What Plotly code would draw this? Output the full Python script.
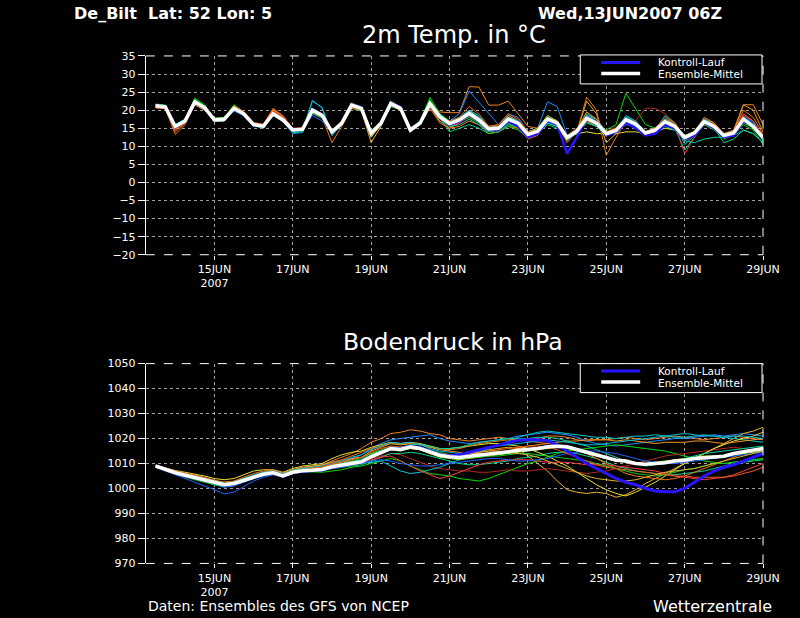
import pandas as pd
import plotly.graph_objects as go

# GFS ensemble meteogram De Bilt, run 13JUN2007 06Z, 6-hourly steps
times = pd.date_range("2007-06-13 12:00", "2007-06-29 00:00", freq="6h")

tick_dates = ["2007-06-15", "2007-06-17", "2007-06-19", "2007-06-21",
              "2007-06-23", "2007-06-25", "2007-06-27", "2007-06-29"]
tick_labels = ["15JUN<br>2007", "17JUN", "19JUN", "21JUN",
               "23JUN", "25JUN", "27JUN", "29JUN"]

member_colors = ["#f08228", "#1e8cff", "#e6af2d", "#00dc00", "#b4281e", "#00d28c",
                 "#00c8c8", "#e6dc32", "#f07814", "#a0e632", "#fa3c3c", "#f0961e",
                 "#14c814", "#00d2a0", "#1e64ff", "#00b4dc", "#f05a1e", "#dcb432"]
control_color = "#2814ff"

# ---- 2m temperature (degC) ----
t_mean = [21.2, 20.9, 15.5, 17.0, 22.3, 20.7, 17.3, 17.5, 20.5, 19.0, 16.0, 15.6, 19.0, 17.3,
          14.5, 14.7, 20.0, 18.6, 14.0, 16.4, 21.4, 20.5, 13.6, 16.4, 21.8, 20.5, 14.5, 16.4,
          21.8, 18.2, 16.3, 17.3, 19.1, 17.3, 14.8, 15.0, 17.5, 16.4, 13.3, 14.2, 17.5, 16.4,
          12.4, 14.2, 17.8, 16.4, 13.5, 14.4, 17.3, 16.2, 13.7, 14.5, 16.8, 15.5, 12.4, 13.7,
          16.8, 15.5, 13.0, 13.7, 17.5, 15.5, 12.4]
t_ctrl = [21.3, 21.0, 15.2, 16.9, 22.1, 20.6, 17.2, 17.4, 20.3, 18.9, 15.9, 15.5, 18.9, 17.2,
          14.3, 14.6, 20.2, 18.7, 13.8, 16.4, 21.6, 20.7, 13.4, 16.5, 22.0, 20.8, 14.4, 16.3,
          21.6, 18.0, 16.0, 17.0, 18.8, 17.0, 14.5, 14.5, 17.0, 15.5, 12.5, 13.5, 17.0, 16.0,
          8.0, 12.5, 18.0, 16.5, 13.0, 14.0, 16.5, 15.0, 13.0, 13.5, 16.0, 15.0, 12.0, 13.0,
          16.5, 15.0, 12.5, 13.0, 17.0, 15.5, 12.0]
t_m01 = [21.0, 20.6, 14.5, 16.5, 22.0, 20.5, 17.0, 17.2, 20.8, 19.5, 16.3, 15.5, 19.8, 18.0,
         14.3, 14.5, 20.5, 19.0, 13.5, 16.0, 21.0, 20.0, 13.5, 16.0, 22.0, 20.5, 14.0, 16.0,
         22.5, 19.5, 19.3, 19.3, 26.5, 26.4, 21.4, 21.4, 22.5, 19.0, 15.5, 15.0, 18.0, 17.0,
         13.0, 15.0, 18.5, 17.5, 14.0, 15.0, 18.0, 16.5, 14.0, 14.5, 17.0, 16.0, 12.5, 13.5,
         17.5, 16.0, 13.0, 14.0, 21.5, 21.5, 16.0]
t_m02 = [21.3, 21.0, 15.0, 16.8, 22.0, 20.3, 17.0, 17.0, 20.0, 18.5, 15.8, 15.3, 18.6, 17.0,
         13.5, 13.8, 22.8, 20.5, 13.0, 16.0, 21.5, 20.5, 13.0, 16.0, 21.5, 20.0, 14.0, 16.5,
         21.5, 17.5, 17.0, 19.0, 25.3, 22.3, 19.0, 16.0, 19.0, 18.0, 14.0, 15.0, 22.3, 21.0,
         13.0, 14.0, 18.0, 17.0, 13.0, 14.0, 17.0, 16.0, 13.5, 14.0, 16.0, 15.5, 12.0, 13.0,
         16.5, 15.0, 12.5, 13.5, 18.0, 16.5, 12.0]
t_m03 = [20.8, 20.5, 15.5, 17.0, 21.5, 20.3, 16.8, 17.0, 20.0, 18.8, 15.8, 15.5, 18.5, 17.0,
         14.5, 14.5, 19.5, 18.5, 13.5, 16.5, 21.0, 20.0, 11.0, 15.5, 21.5, 20.5, 14.0, 16.0,
         21.0, 17.0, 15.0, 16.5, 18.5, 17.0, 14.5, 14.5, 17.0, 16.0, 13.0, 14.0, 17.0, 16.0,
         12.0, 14.0, 22.5, 19.0, 11.0, 13.5, 16.5, 15.5, 13.5, 14.0, 17.0, 16.0, 12.0, 13.5,
         17.0, 15.5, 12.5, 13.5, 17.5, 15.0, 12.0]
t_m04 = [21.6, 21.3, 16.0, 17.5, 23.3, 21.5, 17.5, 17.8, 21.5, 19.5, 16.0, 15.0, 18.5, 16.8,
         14.0, 14.5, 20.0, 18.5, 14.0, 16.0, 21.5, 20.5, 14.5, 16.5, 22.0, 21.0, 15.0, 17.0,
         23.5, 19.0, 16.5, 17.0, 18.5, 17.0, 14.0, 14.5, 16.0, 15.5, 13.5, 14.0, 16.5, 16.0,
         13.0, 14.5, 17.0, 15.5, 14.5, 16.0, 24.7, 20.5, 16.0, 15.0, 16.5, 15.0, 12.0, 13.0,
         16.0, 15.0, 13.0, 13.5, 16.5, 15.0, 11.5]
t_m05 = [20.8, 20.7, 15.2, 16.8, 21.8, 20.5, 17.4, 17.6, 21.0, 19.4, 16.5, 16.0, 20.5, 18.0,
         15.0, 15.0, 19.5, 18.0, 14.5, 16.5, 21.0, 20.0, 14.0, 16.5, 21.5, 20.0, 14.5, 16.0,
         21.5, 17.5, 15.5, 16.5, 18.0, 16.5, 14.0, 14.5, 16.5, 15.5, 13.0, 13.5, 16.5, 15.5,
         13.0, 14.0, 16.5, 15.5, 14.0, 15.5, 18.0, 17.0, 20.5, 20.5, 19.0, 16.5, 12.0, 13.0,
         16.0, 15.0, 13.0, 13.5, 17.0, 15.5, 12.5]
t_m06 = [21.0, 20.8, 15.5, 16.5, 21.5, 20.0, 17.0, 17.0, 19.8, 18.5, 15.8, 15.0, 18.5, 17.0,
         13.8, 14.0, 19.0, 17.8, 13.5, 15.8, 20.5, 19.8, 13.5, 16.0, 21.0, 20.0, 14.5, 16.0,
         21.0, 18.0, 14.0, 15.0, 16.0, 15.0, 13.5, 14.0, 16.0, 15.0, 12.5, 13.5, 16.0, 15.0,
         12.5, 13.5, 16.5, 15.5, 13.5, 14.0, 16.0, 15.5, 13.0, 14.0, 16.0, 15.0, 9.0, 12.5,
         16.0, 15.0, 11.0, 12.0, 14.5, 13.5, 11.0]
t_m07 = [21.4, 21.0, 15.8, 17.2, 22.5, 21.0, 17.5, 17.6, 20.2, 18.8, 15.6, 15.2, 18.8, 17.3,
         14.2, 14.5, 22.5, 20.8, 13.0, 16.2, 21.8, 21.0, 14.0, 16.8, 22.2, 21.0, 15.0, 17.0,
         22.0, 19.0, 17.0, 18.0, 20.0, 18.5, 15.5, 15.5, 18.5, 17.0, 13.5, 14.5, 18.0, 17.0,
         11.5, 14.0, 19.0, 17.5, 14.0, 14.5, 18.5, 17.0, 13.5, 14.5, 18.5, 16.5, 10.5, 13.0,
         17.0, 16.0, 12.5, 13.5, 18.0, 16.0, 11.5]
t_m08 = [21.2, 21.0, 15.6, 17.0, 22.3, 20.8, 17.2, 17.4, 20.3, 18.8, 16.0, 15.6, 19.0, 17.5,
         14.6, 14.8, 19.8, 18.3, 13.8, 16.4, 21.2, 20.3, 12.5, 16.0, 21.6, 20.3, 14.5, 16.5,
         22.0, 18.0, 16.5, 17.5, 19.5, 17.5, 15.0, 15.5, 17.5, 16.5, 13.5, 14.0, 16.5, 15.5,
         13.0, 13.5, 14.0, 13.5, 13.5, 13.5, 14.0, 14.0, 13.5, 14.0, 15.0, 14.5, 13.0, 13.5,
         16.0, 15.5, 13.5, 14.0, 17.0, 15.5, 13.0]
t_m09 = [20.6, 20.4, 13.3, 16.0, 21.5, 20.0, 17.5, 17.5, 20.7, 19.3, 16.2, 15.6, 20.0, 18.5,
         14.8, 14.7, 19.3, 18.0, 11.0, 15.5, 20.5, 20.0, 13.5, 16.2, 21.5, 20.0, 14.0, 16.0,
         20.5, 16.5, 15.0, 15.5, 17.0, 16.0, 13.5, 14.0, 15.5, 15.0, 12.0, 13.0, 17.0, 16.0,
         11.0, 14.0, 23.6, 20.0, 7.5, 12.5, 17.0, 16.0, 13.0, 14.0, 16.0, 15.0, 11.5, 13.0,
         17.5, 16.5, 13.0, 14.0, 20.0, 18.0, 13.5]
t_m10 = [21.5, 21.2, 15.2, 17.2, 22.8, 21.0, 17.8, 18.0, 20.8, 19.0, 16.2, 15.8, 19.2, 17.5,
         14.5, 14.6, 20.3, 18.8, 14.2, 16.6, 21.6, 20.8, 13.8, 16.5, 22.5, 20.8, 14.8, 16.8,
         22.0, 18.5, 16.5, 17.5, 19.5, 17.5, 15.0, 15.5, 18.0, 17.0, 14.0, 15.0, 18.5, 17.0,
         12.5, 14.5, 18.0, 16.5, 14.0, 14.5, 17.5, 16.5, 14.0, 15.0, 17.5, 16.0, 13.0, 14.0,
         17.0, 15.5, 13.5, 14.0, 17.5, 15.5, 12.5]
t_m11 = [20.9, 20.6, 15.0, 16.6, 21.8, 20.3, 17.0, 17.3, 20.5, 19.0, 16.2, 15.8, 19.5, 17.6,
         14.8, 15.0, 20.0, 18.6, 14.2, 16.2, 21.0, 20.0, 13.8, 16.2, 21.3, 20.2, 14.2, 16.0,
         21.3, 17.8, 15.5, 16.5, 18.5, 16.8, 14.5, 14.5, 17.0, 16.0, 13.0, 14.0, 17.0, 16.0,
         12.5, 14.5, 18.0, 16.5, 13.0, 14.0, 17.5, 16.5, 14.0, 15.0, 17.0, 16.0, 8.0, 12.5,
         17.5, 16.0, 13.0, 14.0, 19.0, 17.0, 12.0]
t_m12 = [21.0, 20.7, 14.8, 16.8, 21.7, 20.4, 17.6, 17.8, 21.2, 19.6, 16.4, 16.0, 20.3, 18.3,
         14.7, 14.9, 19.8, 18.4, 14.3, 16.8, 22.0, 20.8, 13.8, 16.6, 22.0, 20.5, 14.2, 16.3,
         21.0, 17.8, 16.0, 17.0, 19.8, 18.0, 15.5, 16.0, 18.5, 17.0, 13.0, 14.0, 18.0, 17.0,
         12.0, 14.5, 19.5, 17.5, 13.0, 14.5, 18.0, 16.5, 14.0, 15.0, 17.5, 16.5, 12.5, 14.0,
         18.0, 16.5, 13.5, 14.5, 21.5, 20.0, 14.0]
t_m13 = [21.7, 21.4, 15.3, 17.3, 23.0, 21.2, 17.7, 17.9, 21.0, 19.2, 15.7, 15.2, 18.8, 17.0,
         14.3, 14.5, 20.0, 18.5, 14.0, 16.5, 21.8, 20.8, 14.0, 16.8, 22.5, 21.0, 14.8, 17.0,
         22.8, 19.0, 17.0, 17.0, 18.0, 16.5, 13.5, 14.0, 15.5, 14.5, 12.5, 13.5, 16.5, 15.5,
         12.5, 14.0, 17.5, 16.0, 13.5, 14.0, 16.5, 15.5, 13.5, 14.5, 17.0, 15.5, 11.5, 13.0,
         16.0, 14.5, 12.0, 13.0, 16.0, 14.5, 10.5]
t_m14 = [21.1, 20.9, 15.7, 17.0, 22.0, 20.5, 17.1, 17.3, 20.0, 18.6, 15.9, 15.4, 18.7, 17.0,
         14.2, 14.4, 19.5, 18.2, 13.6, 16.2, 21.0, 20.2, 13.2, 16.2, 21.4, 20.3, 14.2, 16.2,
         21.2, 17.6, 15.5, 16.0, 17.5, 16.0, 14.0, 14.5, 16.5, 15.5, 12.5, 13.5, 16.5, 15.5,
         12.0, 13.5, 17.0, 15.5, 13.0, 14.0, 16.5, 15.5, 13.0, 13.5, 15.5, 14.5, 11.5, 11.0,
         12.0, 12.5, 12.5, 13.0, 14.5, 13.5, 11.0]
t_m15 = [21.3, 21.1, 15.4, 17.1, 22.4, 20.9, 17.4, 17.2, 19.8, 18.4, 15.5, 15.4, 18.5, 16.8,
         14.4, 14.6, 18.5, 17.0, 13.8, 16.6, 21.8, 20.8, 13.5, 16.6, 22.3, 21.0, 14.6, 16.6,
         21.8, 18.5, 16.0, 17.0, 18.5, 17.0, 14.5, 15.0, 17.5, 16.5, 13.5, 14.5, 17.5, 16.5,
         12.0, 14.0, 17.5, 16.0, 13.5, 14.5, 17.0, 16.0, 13.5, 14.5, 16.5, 15.5, 12.5, 13.5,
         16.5, 15.0, 13.0, 14.0, 18.5, 16.5, 13.0]
t_m16 = [21.5, 21.2, 16.0, 17.4, 22.6, 21.0, 17.6, 17.6, 20.6, 19.2, 16.1, 15.7, 19.3, 17.6,
         14.8, 15.0, 20.2, 18.8, 14.2, 16.6, 21.6, 20.6, 13.8, 16.6, 22.0, 20.8, 14.8, 16.8,
         22.3, 18.8, 16.5, 17.5, 20.0, 18.0, 15.0, 15.5, 18.0, 17.0, 13.5, 14.5, 18.0, 16.5,
         12.5, 14.5, 18.5, 17.0, 13.5, 15.0, 18.0, 17.0, 14.0, 15.0, 17.5, 16.0, 12.5, 14.0,
         17.5, 16.0, 13.5, 14.0, 18.0, 16.0, 12.5]
t_m17 = [20.7, 20.6, 14.0, 16.3, 21.6, 20.4, 17.2, 17.4, 21.0, 19.6, 16.6, 16.1, 20.5, 18.4,
         15.0, 15.1, 20.2, 18.8, 14.4, 16.6, 21.3, 20.4, 14.0, 16.6, 21.8, 20.6, 14.8, 16.8,
         21.8, 18.2, 17.0, 18.0, 21.0, 19.0, 15.5, 16.0, 19.0, 17.5, 14.0, 14.5, 17.0, 16.0,
         12.5, 14.0, 17.0, 16.0, 14.0, 15.0, 17.5, 16.5, 14.0, 15.0, 18.0, 16.5, 12.0, 13.5,
         17.0, 16.0, 13.5, 14.0, 18.5, 17.0, 13.0]
t_m18 = [21.1, 20.8, 15.6, 17.1, 22.0, 20.6, 17.3, 17.5, 20.2, 18.8, 15.9, 15.5, 18.9, 17.2,
         14.6, 14.8, 19.8, 18.5, 14.0, 16.4, 21.2, 20.4, 13.0, 16.2, 21.4, 20.4, 14.6, 16.4,
         21.6, 18.2, 16.2, 17.2, 19.5, 17.5, 15.0, 15.5, 17.5, 16.5, 13.0, 14.0, 17.5, 16.5,
         12.5, 14.0, 18.0, 16.5, 13.5, 14.5, 17.5, 16.5, 13.5, 14.5, 17.0, 15.5, 12.5, 13.5,
         17.0, 15.5, 13.0, 14.0, 17.0, 15.5, 12.5]

# ---- surface pressure (hPa) ----
p_mean = [1009.0, 1007.6, 1006.3, 1005.3, 1004.4, 1003.3, 1002.3, 1001.5, 1002.0, 1003.3,
          1004.7, 1005.7, 1006.3, 1005.0, 1006.5, 1007.1, 1007.3, 1007.6, 1008.7, 1009.3,
          1010.0, 1010.7, 1012.7, 1014.3, 1016.0, 1015.6, 1016.7, 1016.0, 1014.7, 1013.3,
          1012.7, 1012.4, 1012.9, 1013.3, 1014.0, 1014.3, 1014.7, 1015.3, 1015.6, 1016.0,
          1016.7, 1016.9, 1016.7, 1015.6, 1014.7, 1013.3, 1012.4, 1011.3, 1011.0, 1010.0,
          1009.7, 1010.0, 1010.3, 1011.0, 1011.3, 1012.0, 1012.4, 1012.7, 1012.9, 1014.0,
          1014.7, 1015.3, 1016.0]
p_ctrl = [1008.9, 1007.5, 1006.2, 1005.2, 1004.3, 1003.2, 1002.2, 1001.4, 1001.9, 1003.2,
          1004.6, 1005.6, 1006.2, 1004.9, 1006.4, 1007.0, 1007.2, 1007.5, 1008.6, 1009.2,
          1010.0, 1010.8, 1012.8, 1014.4, 1016.2, 1015.8, 1016.9, 1016.3, 1015.0, 1013.6,
          1013.0, 1013.5, 1014.5, 1015.5, 1016.5, 1017.5, 1018.5, 1019.3, 1019.5, 1019.5,
          1019.0, 1017.5, 1015.0, 1012.5, 1010.0, 1008.0, 1006.0, 1004.0, 1002.5, 1001.5,
          1000.0, 999.0, 998.7, 998.7, 1000.0, 1002.5, 1005.0, 1007.0, 1008.5, 1009.5,
          1011.0, 1012.5, 1014.0]
p_m01 = [1009.0, 1007.8, 1006.8, 1006.0, 1005.2, 1004.2, 1003.2, 1002.5, 1002.8, 1004.0,
         1005.5, 1006.5, 1007.0, 1006.0, 1007.5, 1008.2, 1008.8, 1009.5, 1011.0, 1012.5,
         1014.0, 1016.0, 1018.5, 1020.0, 1022.0, 1022.5, 1023.5, 1023.0, 1022.0, 1021.5,
         1020.0, 1019.5, 1019.0, 1019.5, 1020.0, 1020.5, 1020.0, 1019.5, 1019.5, 1020.0,
         1021.0, 1021.0, 1020.5, 1019.5, 1019.0, 1019.5, 1019.5, 1020.0, 1020.5, 1020.0,
         1019.5, 1020.0, 1020.5, 1021.0, 1020.5, 1020.0, 1019.5, 1020.0, 1020.5, 1021.0,
         1020.5, 1020.0, 1019.5]
p_m02 = [1008.8, 1007.4, 1006.0, 1005.0, 1004.0, 1002.8, 1001.5, 1000.5, 1001.0, 1002.5,
         1004.0, 1005.0, 1006.0, 1004.8, 1006.3, 1007.0, 1007.5, 1008.0, 1009.5, 1010.5,
         1012.0, 1013.5, 1016.0, 1018.0, 1019.5, 1020.0, 1020.5, 1021.0, 1021.5, 1020.0,
         1019.0, 1018.5, 1018.0, 1018.5, 1019.0, 1019.5, 1020.0, 1021.0, 1021.5, 1022.0,
         1022.5, 1022.0, 1021.5, 1020.5, 1019.0, 1018.0, 1017.5, 1017.0, 1017.5, 1018.0,
         1018.5, 1019.0, 1019.5, 1020.0, 1020.0, 1020.5, 1021.0, 1021.5, 1021.0, 1021.5,
         1022.0, 1021.5, 1021.0]
p_m03 = [1009.2, 1008.0, 1006.8, 1006.0, 1005.0, 1004.0, 1003.0, 1002.2, 1002.8, 1004.0,
         1005.5, 1006.5, 1007.2, 1006.0, 1007.5, 1008.5, 1009.0, 1009.5, 1010.5, 1011.0,
         1012.0, 1012.5, 1014.0, 1015.0, 1016.0, 1015.5, 1016.0, 1015.5, 1014.0, 1013.0,
         1012.5, 1013.0, 1014.0, 1015.0, 1015.5, 1016.0, 1016.5, 1016.0, 1013.0, 1010.0,
         1007.0, 1003.0, 999.5, 998.5, 998.0, 998.5, 998.0, 996.5, 997.5, 999.5,
         1002.0, 1004.0, 1006.0, 1008.0, 1010.0, 1012.0, 1014.0, 1016.0, 1018.0, 1020.0,
         1022.0, 1023.0, 1024.5]
p_m04 = [1008.6, 1007.2, 1005.8, 1004.6, 1003.5, 1002.5, 1001.5, 1001.0, 1002.0, 1003.2,
         1004.8, 1005.8, 1006.8, 1005.5, 1006.5, 1006.8, 1006.5, 1006.5, 1007.0, 1007.5,
         1008.5, 1009.0, 1010.0, 1011.0, 1012.0, 1011.0, 1009.0, 1007.5, 1006.0, 1005.5,
         1005.0, 1004.0, 1003.5, 1003.0, 1004.0, 1005.5, 1007.0, 1008.5, 1010.0, 1011.0,
         1012.5, 1014.0, 1015.0, 1015.5, 1016.0, 1016.5, 1017.0, 1017.5, 1017.0, 1016.5,
         1016.0, 1015.5, 1015.0, 1014.0, 1013.0, 1012.0, 1011.0, 1010.5, 1010.0, 1010.5,
         1011.0, 1011.5, 1012.0]
p_m05 = [1009.0, 1007.6, 1006.2, 1005.2, 1004.2, 1003.2, 1002.5, 1001.8, 1002.5, 1003.8,
         1005.0, 1006.0, 1006.8, 1005.5, 1006.8, 1007.5, 1008.0, 1008.5, 1009.5, 1010.0,
         1010.5, 1011.0, 1012.0, 1013.0, 1014.0, 1013.5, 1012.0, 1010.5, 1009.0, 1008.0,
         1007.5, 1007.0, 1007.0, 1006.5, 1006.5, 1007.0, 1007.5, 1007.0, 1007.0, 1007.5,
         1008.0, 1007.5, 1007.0, 1006.5, 1006.0, 1006.5, 1007.0, 1008.0, 1009.0, 1010.0,
         1011.0, 1012.0, 1013.0, 1013.5, 1014.0, 1014.5, 1015.0, 1015.5, 1016.0, 1016.5,
         1016.0, 1015.5, 1015.0]
p_m06 = [1008.8, 1007.3, 1005.9, 1004.9, 1003.9, 1002.9, 1002.0, 1001.3, 1001.8, 1003.0,
         1004.5, 1005.5, 1006.0, 1004.8, 1006.2, 1006.8, 1007.0, 1007.2, 1008.0, 1008.5,
         1009.0, 1009.5, 1011.0, 1012.5, 1014.0, 1014.0, 1014.5, 1014.0, 1013.0, 1012.0,
         1011.0, 1010.0, 1009.5, 1009.5, 1010.0, 1010.5, 1011.0, 1012.0, 1012.5, 1013.0,
         1014.0, 1014.5, 1014.5, 1014.0, 1013.0, 1012.0, 1010.5, 1009.0, 1008.0, 1007.0,
         1006.5, 1006.0, 1005.5, 1005.5, 1006.0, 1006.5, 1007.0, 1008.0, 1009.0, 1010.0,
         1010.5, 1011.0, 1011.5]
p_m07 = [1009.1, 1007.7, 1006.4, 1005.5, 1004.6, 1003.5, 1002.4, 1001.6, 1002.2, 1003.5,
         1005.0, 1006.0, 1006.5, 1005.2, 1006.6, 1007.2, 1007.6, 1008.0, 1009.0, 1009.5,
         1010.0, 1010.0, 1010.5, 1011.0, 1009.0, 1007.0, 1006.0, 1006.5, 1007.5, 1008.5,
         1010.0, 1011.5, 1013.0, 1014.5, 1016.0, 1017.5, 1019.0, 1020.5, 1021.5, 1022.5,
         1023.0, 1022.5, 1022.0, 1021.5, 1021.0, 1020.5, 1020.5, 1020.0, 1020.5, 1021.0,
         1021.0, 1021.5, 1021.0, 1020.5, 1020.5, 1021.0, 1021.5, 1021.0, 1020.5, 1020.0,
         1019.5, 1019.0, 1018.5]
p_m08 = [1009.3, 1008.2, 1007.2, 1006.5, 1005.8, 1005.0, 1004.0, 1003.5, 1004.0, 1005.5,
         1007.0, 1007.5, 1007.5, 1006.5, 1008.0, 1009.0, 1009.5, 1010.0, 1012.0, 1013.5,
         1014.5, 1015.0, 1016.5, 1017.5, 1018.5, 1018.0, 1018.5, 1018.0, 1017.0, 1016.0,
         1016.0, 1016.5, 1017.0, 1017.5, 1018.0, 1018.0, 1017.5, 1017.0, 1016.0, 1014.5,
         1013.0, 1011.0, 1009.0, 1006.5, 1004.0, 1001.5, 999.5, 998.0, 997.0, 998.5,
         1000.5, 1002.5, 1005.0, 1007.5, 1010.0, 1012.0, 1014.0, 1016.0, 1017.5, 1019.0,
         1020.0, 1021.0, 1022.5]
p_m09 = [1009.2, 1008.0, 1007.0, 1006.2, 1005.4, 1004.5, 1003.3, 1002.5, 1003.0, 1004.5,
         1006.0, 1007.0, 1007.5, 1005.8, 1007.0, 1007.8, 1008.3, 1009.0, 1010.5, 1011.5,
         1013.0, 1014.5, 1016.0, 1017.0, 1018.0, 1017.5, 1018.0, 1017.5, 1016.5, 1016.0,
         1015.5, 1016.0, 1017.0, 1018.0, 1018.5, 1019.0, 1019.5, 1019.5, 1019.0, 1018.5,
         1018.0, 1017.5, 1017.0, 1015.5, 1014.0, 1012.0, 1010.0, 1008.0, 1006.0, 1005.0,
         1004.5, 1004.0, 1003.5, 1004.0, 1005.0, 1006.5, 1008.0, 1009.5, 1011.0, 1012.5,
         1014.0, 1015.0, 1016.0]
p_m10 = [1008.9, 1007.5, 1006.1, 1005.1, 1004.2, 1003.1, 1002.1, 1001.3, 1001.9, 1003.2,
         1004.6, 1005.6, 1006.2, 1004.9, 1006.4, 1007.0, 1007.2, 1007.5, 1008.5, 1009.0,
         1009.8, 1010.5, 1012.5, 1014.0, 1015.5, 1015.0, 1016.0, 1015.5, 1014.0, 1012.5,
         1012.0, 1011.5, 1012.0, 1012.5, 1013.0, 1013.5, 1014.0, 1014.5, 1015.0, 1015.5,
         1016.0, 1016.5, 1016.0, 1015.0, 1014.0, 1013.0, 1012.0, 1011.0, 1010.5, 1010.0,
         1010.0, 1010.5, 1011.0, 1011.5, 1012.0, 1012.5, 1013.0, 1013.0, 1013.0, 1013.5,
         1014.0, 1014.5, 1015.0]
p_m11 = [1008.8, 1007.4, 1006.0, 1005.0, 1004.0, 1003.0, 1002.0, 1001.2, 1001.7, 1003.0,
         1004.4, 1005.4, 1006.0, 1004.7, 1006.2, 1006.8, 1007.0, 1007.3, 1008.2, 1008.8,
         1009.5, 1010.0, 1011.5, 1012.5, 1013.0, 1011.0, 1009.0, 1007.0, 1005.5, 1004.0,
         1005.0, 1006.5, 1008.0, 1009.5, 1010.5, 1011.0, 1011.5, 1011.5, 1011.5, 1011.0,
         1010.5, 1010.5, 1010.5, 1010.0, 1009.5, 1009.5, 1009.5, 1009.0, 1008.5, 1008.0,
         1007.5, 1007.0, 1006.0, 1005.0, 1004.5, 1004.0, 1003.5, 1004.0, 1004.5, 1005.5,
         1007.0, 1008.5, 1010.0]
p_m12 = [1009.1, 1007.9, 1006.6, 1005.7, 1004.8, 1003.8, 1002.8, 1002.0, 1002.5, 1003.8,
         1005.2, 1006.2, 1006.8, 1005.5, 1007.0, 1007.6, 1008.0, 1008.3, 1009.5, 1010.5,
         1011.5, 1012.5, 1015.0, 1016.5, 1018.0, 1017.5, 1018.0, 1017.5, 1016.5, 1015.5,
         1015.0, 1014.5, 1014.0, 1014.0, 1014.0, 1014.5, 1015.0, 1016.0, 1017.0, 1017.5,
         1018.0, 1018.5, 1019.0, 1019.0, 1019.5, 1019.5, 1019.5, 1019.0, 1019.5, 1019.0,
         1018.5, 1018.0, 1018.5, 1018.5, 1018.5, 1019.0, 1019.0, 1018.5, 1018.0, 1018.5,
         1019.0, 1019.5, 1020.0]
p_m13 = [1008.7, 1007.3, 1005.9, 1004.8, 1003.8, 1002.8, 1001.8, 1001.0, 1001.6, 1003.0,
         1004.5, 1005.4, 1006.2, 1005.0, 1006.6, 1007.3, 1007.8, 1008.2, 1009.3, 1010.2,
         1011.0, 1012.0, 1014.0, 1015.5, 1017.0, 1016.5, 1017.0, 1016.5, 1015.5, 1014.5,
         1013.5, 1013.0, 1012.5, 1012.5, 1013.0, 1013.0, 1013.5, 1014.0, 1014.0, 1013.5,
         1013.0, 1012.5, 1012.0, 1011.5, 1011.0, 1010.0, 1009.0, 1008.0, 1007.0, 1006.0,
         1005.5, 1005.0, 1005.5, 1006.5, 1007.5, 1008.0, 1009.0, 1010.0, 1010.0, 1010.5,
         1011.0, 1011.5, 1012.0]
p_m14 = [1009.0, 1007.7, 1006.5, 1005.5, 1004.6, 1003.6, 1002.6, 1001.8, 1002.3, 1003.6,
         1005.0, 1006.0, 1006.6, 1005.3, 1006.8, 1007.4, 1007.7, 1008.1, 1009.2, 1010.0,
         1010.8, 1011.5, 1013.5, 1015.0, 1016.5, 1016.5, 1017.5, 1017.5, 1017.0, 1016.0,
         1016.0, 1016.5, 1017.5, 1018.5, 1019.0, 1019.5, 1020.0, 1020.0, 1020.0, 1020.5,
         1020.5, 1020.0, 1019.0, 1018.0, 1017.0, 1015.5, 1014.0, 1012.5, 1011.0, 1010.0,
         1009.0, 1009.5, 1010.0, 1011.0, 1012.0, 1013.0, 1014.0, 1014.5, 1015.0, 1015.5,
         1016.0, 1016.5, 1017.0]
p_m15 = [1008.5, 1007.0, 1005.5, 1004.2, 1002.8, 1001.2, 999.5, 997.8, 998.5, 1000.8,
         1003.0, 1004.5, 1005.5, 1004.5, 1006.0, 1006.5, 1006.8, 1007.0, 1008.0, 1008.5,
         1009.5, 1010.0, 1011.0, 1011.5, 1011.0, 1010.0, 1009.5, 1009.0, 1009.0, 1009.5,
         1010.0, 1010.5, 1011.0, 1011.5, 1012.0, 1012.0, 1011.5, 1011.0, 1011.0, 1011.5,
         1012.0, 1013.0, 1014.0, 1014.5, 1015.0, 1015.0, 1014.5, 1014.0, 1013.0, 1012.0,
         1011.0, 1010.5, 1010.0, 1010.0, 1010.5, 1011.0, 1011.5, 1012.0, 1012.5, 1013.0,
         1013.5, 1014.0, 1014.5]
p_m16 = [1009.2, 1007.9, 1006.7, 1005.8, 1004.9, 1003.9, 1002.9, 1002.1, 1002.6, 1004.0,
         1005.5, 1006.5, 1007.0, 1005.8, 1007.3, 1008.0, 1008.5, 1009.0, 1010.0, 1011.0,
         1012.5, 1013.5, 1015.5, 1017.0, 1018.5, 1018.0, 1018.5, 1017.5, 1016.0, 1015.0,
         1014.5, 1014.0, 1014.5, 1015.5, 1016.5, 1017.0, 1017.5, 1018.0, 1018.5, 1019.0,
         1019.5, 1019.0, 1018.5, 1018.0, 1017.5, 1017.5, 1018.0, 1018.5, 1019.0, 1019.5,
         1020.0, 1020.5, 1021.0, 1021.5, 1022.0, 1021.5, 1021.0, 1021.0, 1020.5, 1021.0,
         1021.0, 1020.5, 1020.0]
p_m17 = [1008.9, 1007.5, 1006.3, 1005.3, 1004.4, 1003.4, 1002.4, 1001.7, 1002.2, 1003.5,
         1004.9, 1005.9, 1006.6, 1005.4, 1006.9, 1007.6, 1008.1, 1008.6, 1009.8, 1010.6,
         1011.5, 1012.5, 1014.5, 1016.0, 1017.0, 1016.5, 1017.0, 1016.0, 1014.5, 1013.5,
         1013.0, 1013.5, 1014.0, 1014.5, 1015.0, 1015.5, 1016.0, 1016.5, 1017.0, 1017.0,
         1016.5, 1015.5, 1014.0, 1012.5, 1011.0, 1009.5, 1008.5, 1008.0, 1007.5, 1007.0,
         1006.5, 1006.0, 1005.5, 1005.0, 1005.0, 1004.5, 1004.5, 1004.5, 1004.5, 1005.0,
         1006.0, 1007.0, 1008.5]
p_m18 = [1009.1, 1007.8, 1006.5, 1005.6, 1004.7, 1003.7, 1002.7, 1001.9, 1002.4, 1003.7,
         1005.1, 1006.1, 1006.7, 1005.4, 1006.9, 1007.5, 1007.8, 1008.1, 1009.1, 1009.8,
         1010.6, 1011.3, 1013.3, 1014.8, 1016.3, 1016.0, 1016.8, 1016.2, 1015.0, 1014.0,
         1013.5, 1013.5, 1014.0, 1014.5, 1015.0, 1015.0, 1014.5, 1014.0, 1013.5, 1012.5,
         1011.0, 1009.5, 1008.0, 1006.5, 1005.0, 1004.0, 1003.5, 1003.0, 1003.0, 1003.5,
         1004.5, 1005.5, 1006.5, 1007.0, 1007.5, 1008.0, 1009.0, 1010.0, 1011.0, 1012.0,
         1013.0, 1014.0, 1015.0]

temp_members = [t_m01, t_m02, t_m03, t_m04, t_m05, t_m06, t_m07, t_m08, t_m09,
                t_m10, t_m11, t_m12, t_m13, t_m14, t_m15, t_m16, t_m17, t_m18]
pres_members = [p_m01, p_m02, p_m03, p_m04, p_m05, p_m06, p_m07, p_m08, p_m09,
                p_m10, p_m11, p_m12, p_m13, p_m14, p_m15, p_m16, p_m17, p_m18]

W, H = 800, 618
# the photographed page comes out slightly shrunk (about 0.98, a few px lower),
# so target positions are mapped back before turning them into paper fractions
SHRINK, DROP = 0.98, 5


def px(x):
    return (x / SHRINK) / W


def py(y):
    return 1 - ((y - DROP) / SHRINK) / H


fig = go.Figure()

for i, vals in enumerate(temp_members):
    fig.add_trace(go.Scatter(x=times, y=vals, mode="lines", showlegend=False,
                             line=dict(color=member_colors[i], width=1),
                             xaxis="x", yaxis="y"))
fig.add_trace(go.Scatter(x=times, y=t_ctrl, mode="lines", showlegend=False,
                         line=dict(color=control_color, width=2.5), xaxis="x", yaxis="y"))
fig.add_trace(go.Scatter(x=times, y=t_mean, mode="lines", showlegend=False,
                         line=dict(color="white", width=3.5), xaxis="x", yaxis="y"))

for i, vals in enumerate(pres_members):
    fig.add_trace(go.Scatter(x=times, y=vals, mode="lines", showlegend=False,
                             line=dict(color=member_colors[i], width=1),
                             xaxis="x2", yaxis="y2"))
fig.add_trace(go.Scatter(x=times, y=p_ctrl, mode="lines", showlegend=False,
                         line=dict(color=control_color, width=3), xaxis="x2", yaxis="y2"))
fig.add_trace(go.Scatter(x=times, y=p_mean, mode="lines", showlegend=False,
                         line=dict(color="white", width=3.5), xaxis="x2", yaxis="y2"))

tick_font = dict(family="DejaVu Sans", size=11, color="white")
xcommon = dict(type="date", range=["2007-06-13 06:00", "2007-06-29 00:00"],
               tickvals=tick_dates, ticktext=tick_labels, tickfont=tick_font,
               showgrid=True, gridcolor="#a0a0a0", griddash="dot", gridwidth=1,
               ticks="outside", ticklen=4, tickcolor="white",
               showline=False, zeroline=False, domain=[px(146), px(764)])
ycommon = dict(tickfont=tick_font, showgrid=True, gridcolor="#a0a0a0", griddash="dot",
               gridwidth=1, ticks="outside", ticklen=7, tickcolor="white",
               showline=True, linecolor="white", linewidth=1, zeroline=False)

fig.update_layout(
    width=W, height=H,
    margin=dict(l=0, r=0, t=0, b=0),
    paper_bgcolor="black", plot_bgcolor="black",
    xaxis=dict(xcommon, anchor="y"),
    yaxis=dict(ycommon, range=[-20, 35], tickvals=list(range(-20, 36, 5)),
               domain=[py(254), py(55)], anchor="x"),
    xaxis2=dict(xcommon, anchor="y2"),
    yaxis2=dict(ycommon, range=[970, 1050], tickvals=list(range(970, 1051, 10)),
                domain=[py(563), py(363)], anchor="x2"),
)

# dashed frame (top, bottom, right) like the GrADS plot
shapes = []
for xr, yr in (("x domain", "y domain"), ("x2 domain", "y2 domain")):
    for x0, y0, x1, y1 in ((0, 1, 1, 1), (0, 0, 1, 0), (1, 0, 1, 1)):
        shapes.append(dict(type="line", xref=xr, yref=yr, x0=x0, y0=y0, x1=x1, y1=y1,
                           line=dict(color="white", width=1, dash="dash")))

# legend boxes
annotations = []
for top in (54, 363):
    shapes.append(dict(type="rect", xref="paper", yref="paper",
                       x0=px(581), x1=px(763), y0=py(top + 29), y1=py(top),
                       line=dict(color="white", width=1), fillcolor="black"))
    shapes.append(dict(type="line", xref="paper", yref="paper",
                       x0=px(602), x1=px(641), y0=py(top + 7.5), y1=py(top + 7.5),
                       line=dict(color=control_color, width=3)))
    shapes.append(dict(type="line", xref="paper", yref="paper",
                       x0=px(602), x1=px(641), y0=py(top + 18.5), y1=py(top + 18.5),
                       line=dict(color="white", width=3.5)))
    for txt, dy in (("Kontroll-Lauf", 7), ("Ensemble-Mittel", 19.5)):
        annotations.append(dict(text=txt, xref="paper", yref="paper", x=px(657), y=py(top + dy),
                                xanchor="left", yanchor="middle", showarrow=False,
                                font=dict(family="DejaVu Sans", size=10.5, color="white")))

annotations += [
    dict(text="2m Temp. in °C", x=px(455), y=py(34),
         font=dict(family="DejaVu Sans", size=24, color="white")),
    dict(text="Bodendruck in hPa", x=px(454), y=py(341),
         font=dict(family="DejaVu Sans", size=23.5, color="white")),
    dict(text="De_Bilt  Lat: 52 Lon: 5", x=px(72), y=py(13), xanchor="left",
         font=dict(family="DejaVu Sans", size=16, color="white", weight="bold")),
    dict(text="Wed,13JUN2007 06Z", x=px(725), y=py(13), xanchor="right",
         font=dict(family="DejaVu Sans", size=16, color="white", weight="bold")),
    dict(text="Daten: Ensembles des GFS von NCEP", x=px(146), y=py(606), xanchor="left",
         font=dict(family="DejaVu Sans", size=14, color="white")),
    dict(text="Wetterzentrale", x=px(775), y=py(606), xanchor="right",
         font=dict(family="DejaVu Sans", size=16, color="white")),
]
for a in annotations:
    a.setdefault("xref", "paper")
    a.setdefault("yref", "paper")
    a.setdefault("showarrow", False)
    a.setdefault("yanchor", "middle")

fig.update_layout(shapes=shapes, annotations=annotations)

page_style = """
document.documentElement.style.background = 'black';
document.body.style.margin = '0';
document.body.style.background = 'black';
document.body.style.overflow = 'hidden';
"""
fig.write_html("out.html", config={"displayModeBar": False}, post_script=page_style)
